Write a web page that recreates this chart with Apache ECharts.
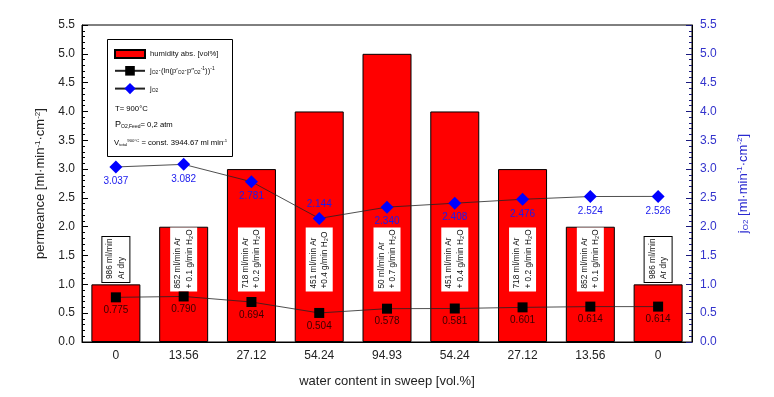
<!DOCTYPE html>
<html>
<head>
	<meta charset="utf-8">
	<title>permeance</title>
	<style>
		html, body { margin: 0; padding: 0; background: #fff; }
		#chart { width: 774px; height: 397px; }
	</style>
</head>
<body>
	<div id="chart"></div>
<script src="https://cdn.jsdelivr.net/npm/echarts@6/dist/echarts.min.js"></script>
<script>
	var categories = ['0', '13.56', '27.12', '54.24', '94.93', '54.24', '27.12', '13.56', '0'];
	var humidity = [1, 2, 3, 4, 5, 4, 3, 2, 1];
	var permeance = [0.775, 0.790, 0.694, 0.504, 0.578, 0.581, 0.601, 0.614, 0.614];
	var jO2 = [3.037, 3.082, 2.781, 2.144, 2.340, 2.408, 2.476, 2.524, 2.526];
	var jO2LabelPos = ['bottom', 'bottom', 'bottom', 'top', 'bottom', 'bottom', 'bottom', 'bottom', 'bottom'];
	var sweepGas = [
		['986 ml/min', 'Ar dry'],
		['852 ml/min Ar', '+ 0.1 g/min H₂O'],
		['718 ml/min Ar', '+ 0.2 g/min H₂O'],
		['451 ml/min Ar', '+0.4 g/min H₂O'],
		['50 ml/min Ar', '+ 0.7 g/min H₂O'],
		['451 ml/min Ar', '+ 0.4 g/min H₂O'],
		['718 ml/min Ar', '+ 0.2 g/min H₂O'],
		['852 ml/min Ar', '+ 0.1 g/min H₂O'],
		['986 ml/min', 'Ar dry']
	];
	var yTicks = { min: 0, max: 5.5, interval: 0.5 };

	var font = 'Liberation Sans, Arial, sans-serif';
	var chart = echarts.init(document.getElementById('chart'));

	// white boxes with the sweep gas composition, centred at a fixed height
	var boxData = sweepGas.map(function (g, i) {
		var dry = g[1] === 'Ar dry';
		return {
			value: [i, 1.43],
			label: {
				formatter: '{l|' + g[0] + '}\n{l|' + g[1] + '}',
				borderColor: dry ? '#000' : 'transparent',
				borderWidth: dry ? 1 : 0,
				rich: { l: { width: dry ? 39 : 58, align: 'left', fontSize: 8.3, fontFamily: font, color: '#111', lineHeight: 11.5 } }
			}
		};
	});

	var legendText = {
		'humidity': '{t|humidity abs. [vol%]}',
		'perm': '{t|j}{s|O2}{t|·(ln(p′}{s|O2}{t|·p″}{s|O2}{u|-1}{t|))}{u|-1}',
		'jo2': '{t|j}{s|O2}'
	};
	var smallRich = {
		t: { fontSize: 7.7, fontFamily: font, color: '#111' },
		s: { fontSize: 5, fontFamily: font, color: '#111', padding: [4, 0, 0, 0] },
		u: { fontSize: 5, fontFamily: font, color: '#111', padding: [0, 0, 4, 0] }
	};
	var tinyRich = Object.assign({}, smallRich, {
		s: { fontSize: 4.3, fontFamily: font, color: '#111', padding: [4, 0, 0, 0] },
		u: { fontSize: 4.3, fontFamily: font, color: '#111', padding: [0, 0, 4, 0] }
	});
	var nameRich = {
		a: { fontSize: 13, fontFamily: font, color: '#222' },
		u: { fontSize: 8, fontFamily: font, color: '#222', padding: [0, 0, 6, 0] },
		s: { fontSize: 8, fontFamily: font, color: '#222', padding: [6, 0, 0, 0] }
	};
	var nameRichBlue = {
		a: { fontSize: 13, fontFamily: font, color: '#2a2ad0' },
		u: { fontSize: 8, fontFamily: font, color: '#2a2ad0', padding: [0, 0, 6, 0] },
		s: { fontSize: 8, fontFamily: font, color: '#2a2ad0', padding: [6, 0, 0, 0] }
	};
	var legendBase = {
		orient: 'vertical',
		left: 114,
		itemWidth: 30,
		padding: 0,
		formatter: function (name) { return legendText[name]; },
		textStyle: { rich: smallRich }
	};

	var option = {
		animation: false,
		backgroundColor: '#fff',
		grid: { left: 82, right: 82, top: 25, bottom: 55, show: true, borderColor: '#000', borderWidth: 1 },
		legend: [
			Object.assign({}, legendBase, { top: 49, itemHeight: 8, data: [{ name: 'humidity', icon: 'rect' }] }),
			Object.assign({}, legendBase, { top: 66, itemHeight: 12, data: [{ name: 'perm' }] }),
			Object.assign({}, legendBase, { top: 83, itemHeight: 14, data: [{ name: 'jo2' }] })
		],
		graphic: [
			{ type: 'rect', left: 107, top: 39, z: 1, shape: { width: 125, height: 117 }, style: { fill: '#fff', stroke: '#000', lineWidth: 1 } },
			{ type: 'text', left: 115, top: 105, z: 5, style: { text: '{t|T= 900°C}', rich: smallRich } },
			{ type: 'text', left: 115, top: 120, z: 5, style: { text: '{p|P}{s|O2,Feed}{t|= 0,2 atm}', rich: Object.assign({ p: { fontSize: 9, fontFamily: font, color: '#111' } }, smallRich) } },
			{ type: 'text', left: 114, top: 139, z: 5, style: { text: '{t|V}{s|total}{u|900°C}{t| = const. 3944.67 ml min}{u|-1}', rich: tinyRich } }
		],
		xAxis: {
			type: 'category',
			data: categories,
			name: 'water content in sweep [vol.%]',
			nameLocation: 'middle',
			nameGap: 33,
			nameTextStyle: { fontSize: 13, fontFamily: font, color: '#222' },
			axisLine: { lineStyle: { color: '#000', width: 1 } },
			axisTick: { show: true, inside: true, alignWithLabel: true, length: 5, lineStyle: { color: '#000' } },
			axisLabel: { fontSize: 12, fontFamily: font, color: '#222', margin: 8 },
			splitLine: { show: false }
		},
		yAxis: [
			{
				type: 'value',
				min: yTicks.min, max: yTicks.max, interval: yTicks.interval,
				name: '{a|permeance [ml·min}{u|-1}{a|·cm}{u|-2}{a|]}',
				nameLocation: 'middle',
				nameRotate: 90,
				nameGap: 31,
				nameTextStyle: { rich: nameRich },
				axisLine: { show: true, lineStyle: { color: '#000' } },
				axisTick: { show: true, inside: true, length: 6, lineStyle: { color: '#000' } },
				minorTick: { show: true, splitNumber: 5, length: 3, lineStyle: { color: '#000' } },
				axisLabel: { fontSize: 12, fontFamily: font, color: '#222', margin: 7, formatter: function (v) { return v.toFixed(1); } },
				splitLine: { show: false }
			},
			{
				type: 'value',
				position: 'right',
				min: yTicks.min, max: yTicks.max, interval: yTicks.interval,
				name: '{a|j}{s|O2}{a| [ml·min}{u|-1}{a|·cm}{u|-2}{a|]}',
				nameLocation: 'middle',
				nameRotate: 90,
				nameGap: 44,
				nameTextStyle: { rich: nameRichBlue },
				axisLine: { show: true, lineStyle: { color: '#000' } },
				axisTick: { show: true, inside: true, length: 6, lineStyle: { color: '#1a1a80' } },
				minorTick: { show: true, splitNumber: 5, length: 3, lineStyle: { color: '#1a1a80' } },
				axisLabel: { fontSize: 12, fontFamily: font, color: '#3333cc', margin: 8, formatter: function (v) { return v.toFixed(1); } },
				splitLine: { show: false }
			}
		],
		series: [
			{
				name: 'humidity',
				type: 'bar',
				data: humidity,
				barWidth: 49,
				itemStyle: { color: '#ff0000', borderColor: '#000', borderWidth: 1 },
				z: 2
			},
			{
				name: 'boxes',
				type: 'scatter',
				data: boxData,
				symbolSize: 1,
				itemStyle: { color: 'transparent', opacity: 1 },
				label: {
					show: true,
					position: 'inside',
					rotate: 90,
					opacity: 1,
					backgroundColor: '#ffffff',
					padding: [2, 3, 2, 3]
				},
				emphasis: { disabled: true },
				silent: true,
				z: 3
			},
			{
				name: 'perm',
				type: 'line',
				data: permeance,
				symbol: 'rect',
				symbolSize: 10,
				itemStyle: { color: '#000' },
				lineStyle: { color: '#222', width: 0.8 },
				label: {
					show: true, position: 'bottom', distance: 3,
					fontSize: 10, fontFamily: font, color: '#3a0000',
					formatter: function (p) { return p.value.toFixed(3); }
				},
				z: 4
			},
			{
				name: 'jo2',
				type: 'line',
				yAxisIndex: 1,
				data: jO2.map(function (v, i) {
					return { value: v, label: { position: jO2LabelPos[i] } };
				}),
				symbol: 'diamond',
				symbolSize: [13, 13],
				itemStyle: { color: '#0000ff' },
				lineStyle: { color: '#222', width: 0.8 },
				label: {
					show: true, distance: 3,
					fontSize: 10, fontFamily: font, color: '#1a1aee',
					formatter: function (p) { return p.value.toFixed(3); }
				},
				z: 5
			}
		]
	};

	chart.setOption(option);
</script>
</body>
</html>
